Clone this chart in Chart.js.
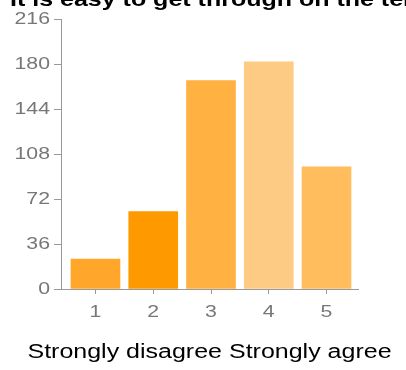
<!DOCTYPE html>
<html>
<head>
<meta charset="utf-8">
<script src="https://cdn.jsdelivr.net/npm/chart.js@4/dist/chart.umd.min.js"></script>
<style>
    html, body { margin: 0; padding: 0; background: #fff; }
    #wrap { position: relative; width: 406px; height: 370px; overflow: hidden; }
</style>
</head>
<body>
<div id="wrap"><canvas id="chart-answers"></canvas></div>
<script>
Chart.defaults.font.family = 'Arial, "Liberation Sans", sans-serif'

const questionTitle = 'It is easy to get through on the telephone'
const scaleCaption = 'Strongly disagree Strongly agree'
const categories = ['1', '2', '3', '4', '5']
const counts = [24, 62, 167, 182, 98]
const barColors = ['#ffa62b', '#ff9900', '#ffb142', '#fecb85', '#ffbd5e']
const yTicks = [0, 36, 72, 108, 144, 180, 216]

const TEXT_STRETCH = 1.25

// all text is drawn stretched sideways around its anchor point
const wideTextPlugin = {
    id: 'wideText',
    beforeDraw(chart) {
        const ctx = chart.ctx
        if (ctx._wide) return
        const fill = ctx.fillText.bind(ctx)
        ctx.fillText = function(text, x, y) {
            this.save()
            this.translate(x, y)
            this.scale(TEXT_STRETCH, 1)
            fill(text, 0, 0)
            this.restore()
        }
        ctx._wide = true
    }
}

// question text runs off the top edge, only its lower half shows
const questionPlugin = {
    id: 'questionText',
    afterDraw(chart) {
        const ctx = chart.ctx
        ctx.save()
        ctx.font = 'bold 20px Arial, "Liberation Sans", sans-serif'
        ctx.fillStyle = '#000'
        ctx.textBaseline = 'alphabetic'
        ctx.textAlign = 'left'
        ctx.fillText(questionTitle, 10, 5.5)
        ctx.restore()
    }
}

const ctx = document.getElementById('chart-answers').getContext('2d')
new Chart(ctx, {
    type: 'bar',
    data: {
        datasets: [{
            data: counts.map((v, i) => ({ x: i + 1, y: v })),
            backgroundColor: barColors,
            borderWidth: 0,
            barThickness: 49
        }]
    },
    plugins: [wideTextPlugin, questionPlugin],
    options: {
        responsive: true,
        maintainAspectRatio: false,
        devicePixelRatio: 1,
        animation: false,
        layout: {
            padding: { top: 19.5, right: 48, bottom: 5, left: 0 }
        },
        plugins: {
            legend: { display: false },
            tooltip: { enabled: false }
        },
        scales: {
            x: {
                type: 'linear',
                offset: false,
                min: 0.403,
                max: 5.545,
                afterBuildTicks(scale) {
                    scale.ticks = categories.map((c, i) => ({ value: i + 1 }))
                },
                grid: {
                    offset: false,
                    drawOnChartArea: false,
                    drawTicks: true,
                    tickLength: 5,
                    color: '#999'
                },
                border: { color: '#999' },
                ticks: {
                    color: '#777',
                    padding: 8,
                    maxRotation: 0,
                    font: { size: 17 },
                    callback: (value) => categories[value - 1]
                },
                title: {
                    display: true,
                    text: scaleCaption,
                    color: '#000',
                    font: { size: 20 },
                    padding: { top: 9.6, bottom: 1 }
                }
            },
            y: {
                min: 0,
                max: 216,
                afterBuildTicks(scale) {
                    scale.ticks = yTicks.map(v => ({ value: v }))
                },
                afterFit(scale) {
                    scale.width = 61
                },
                grid: {
                    drawOnChartArea: false,
                    drawTicks: true,
                    tickLength: 7,
                    color: '#999'
                },
                border: { color: '#999' },
                ticks: {
                    color: '#777',
                    padding: 4,
                    font: { size: 17 }
                }
            }
        }
    }
})
</script>
</body>
</html>
